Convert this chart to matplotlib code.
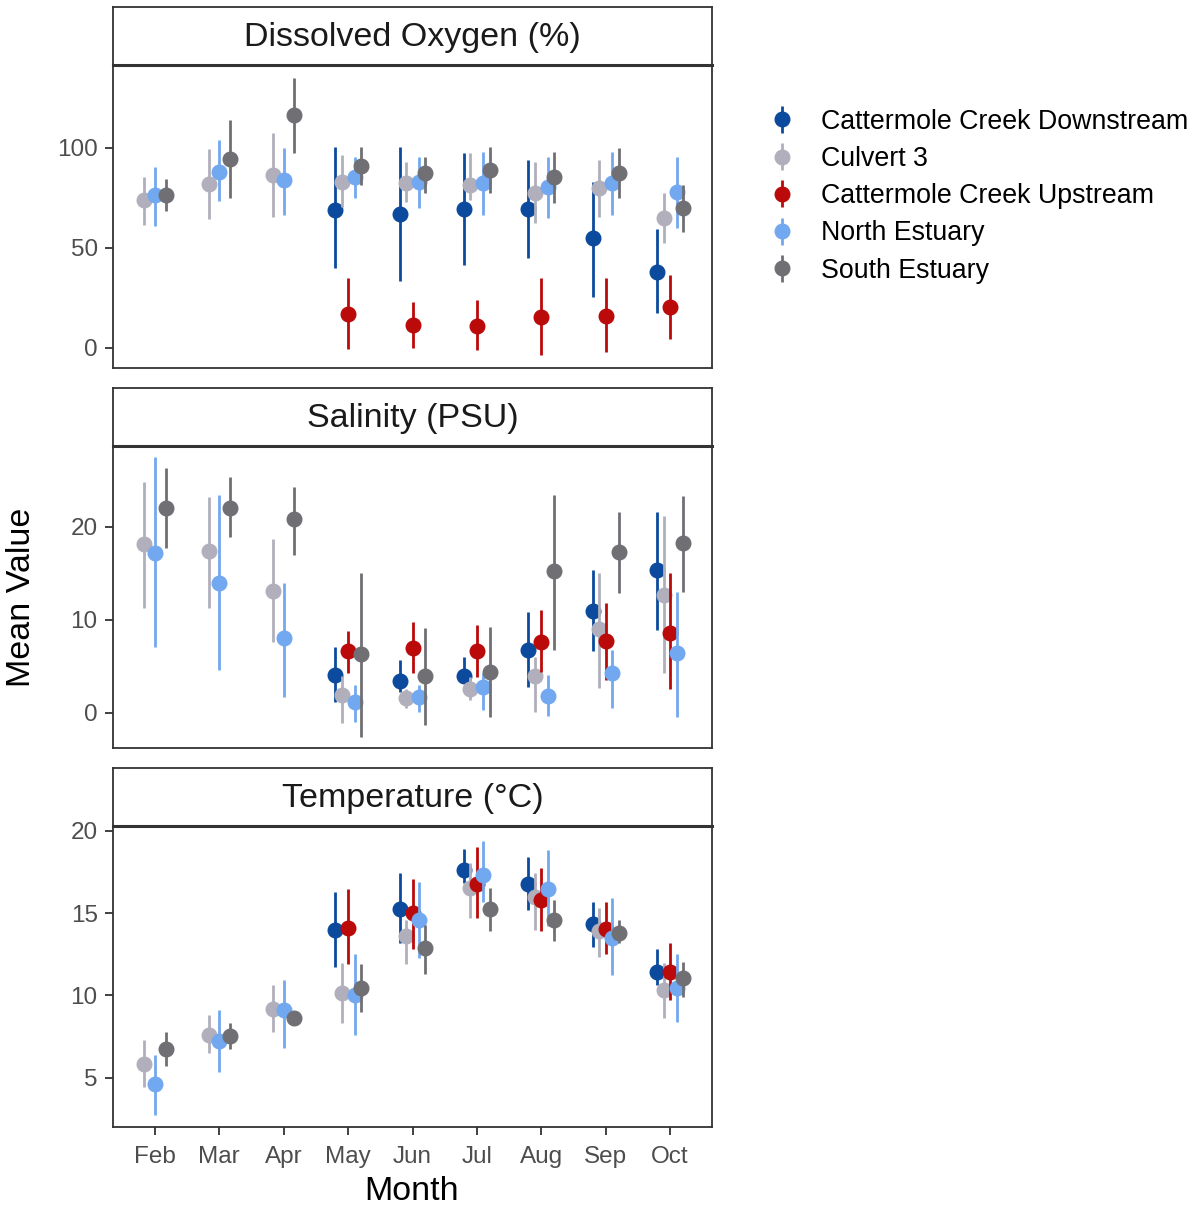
import numpy as np
import matplotlib
matplotlib.use("Agg")
import matplotlib.pyplot as plt

plt.rcParams['font.family'] = ['Liberation Sans', 'DejaVu Sans']

nan = np.nan
months = ['Feb', 'Mar', 'Apr', 'May', 'Jun', 'Jul', 'Aug', 'Sep', 'Oct']
sites = ['Cattermole Creek Downstream', 'Culvert 3', 'Cattermole Creek Upstream',
         'North Estuary', 'South Estuary']
colors = ['#0b4a9c', '#b0afbb', '#bb0a0a', '#72a8f0', '#6f6f74']

# Dissolved oxygen (%): mean, lower, upper per site
do_mean = [[nan, nan, nan, 69, 67, 69.5, 69.5, 55, 38],
           [74, 82, 86.5, 83, 82.5, 81.5, 77.5, 80, 65],
           [nan, nan, nan, 17, 11.5, 11, 15.5, 16, 20.5],
           [76.5, 88, 84, 85.5, 83, 82.5, 80.5, 82.5, 78],
           [76.5, 94.5, 116.5, 91, 87.5, 89, 85.5, 87.5, 70]]
do_lo = [[nan, nan, nan, 40, 33.5, 41.5, 45, 25.5, 17.5],
         [61.5, 64.5, 65.5, 70.5, 73, 74, 62.5, 65.5, 52.5],
         [nan, nan, nan, -0.5, 0, -1, -3.5, -2, 4.5],
         [61, 73.5, 66.5, 75, 70, 66.5, 65, 66.5, 60],
         [68.5, 75, 97.5, 81.5, 77.5, 77.5, 72.5, 75, 58]]
do_hi = [[nan, nan, nan, 100.5, 100.5, 97.5, 94, 83, 59.5],
         [85.5, 99.5, 107.5, 96.5, 93, 97.5, 93, 94, 77.5],
         [nan, nan, nan, 35, 23, 24, 35, 35, 36.5],
         [90.5, 104, 100, 95.5, 95.5, 98, 95.5, 98, 95.5],
         [84.5, 114, 135, 100.5, 95.5, 100.5, 98, 100, 81.5]]

# Salinity (PSU)
sal_mean = [[nan, nan, nan, 4.1, 3.4, 3.9, 6.8, 10.9, 15.4],
            [18.2, 17.4, 13.1, 1.9, 1.6, 2.5, 3.9, 9.0, 12.7],
            [nan, nan, nan, 6.6, 7.0, 6.6, 7.6, 7.7, 8.6],
            [17.2, 14.0, 8.0, 1.1, 1.7, 2.8, 1.8, 4.3, 6.4],
            [22.0, 22.0, 20.8, 6.3, 3.9, 4.4, 15.2, 17.3, 18.3]]
sal_lo = [[nan, nan, nan, 1.1, 2.2, 3.3, 2.8, 6.6, 8.9],
          [11.3, 11.3, 7.6, -1.1, 0.5, 1.4, 0.1, 2.7, 4.3],
          [nan, nan, nan, 4.3, 4.3, 3.8, 4.4, 3.5, 2.5],
          [7.1, 4.6, 1.7, -1.0, 0.1, 0.3, -0.4, 0.5, -0.5],
          [17.7, 18.9, 17.0, -2.6, -1.3, -0.5, 6.8, 12.9, 13.0]]
sal_hi = [[nan, nan, nan, 7.1, 5.7, 6.0, 10.8, 15.4, 21.6],
          [24.8, 23.2, 18.7, 4.0, 2.5, 3.8, 6.0, 15.0, 21.2],
          [nan, nan, nan, 8.8, 9.8, 9.4, 11.0, 11.8, 15.0],
          [27.5, 23.4, 14.0, 3.0, 3.0, 4.3, 4.1, 6.8, 13.0],
          [26.3, 25.4, 24.3, 15.0, 9.1, 9.2, 23.4, 21.6, 23.3]]

# Temperature (°C)
tmp_mean = [[nan, nan, nan, 14.0, 15.25, 17.65, 16.8, 14.35, 11.4],
            [5.85, 7.6, 9.2, 10.15, 13.6, 16.55, 16.0, 13.9, 10.35],
            [nan, nan, nan, 14.1, 15.0, 16.8, 15.8, 14.05, 11.45],
            [4.6, 7.2, 9.1, 10.05, 14.6, 17.3, 16.5, 13.5, 10.45],
            [6.75, 7.55, 8.6, 10.45, 12.9, 15.25, 14.6, 13.8, 11.05]]
tmp_lo = [[nan, nan, nan, 11.7, 13.2, 16.85, 15.2, 12.95, 10.65],
          [4.45, 6.5, 7.8, 8.35, 11.9, 14.7, 14.0, 12.35, 8.65],
          [nan, nan, nan, 11.9, 12.8, 14.7, 13.9, 12.5, 9.75],
          [2.75, 5.35, 6.8, 7.6, 12.3, 15.7, 14.2, 11.25, 8.4],
          [5.7, 6.75, 8.3, 9.0, 11.3, 13.9, 13.3, 13.2, 9.9]]
tmp_hi = [[nan, nan, nan, 16.3, 17.45, 18.9, 18.4, 15.65, 12.8],
          [7.3, 8.8, 10.65, 12.0, 14.6, 18.05, 17.45, 15.3, 12.0],
          [nan, nan, nan, 16.5, 17.1, 19.0, 17.75, 15.65, 13.2],
          [6.4, 9.1, 10.95, 12.5, 16.9, 19.4, 18.85, 15.9, 12.5],
          [7.75, 8.35, 8.9, 11.9, 14.3, 16.55, 15.8, 14.6, 12.05]]

panels = [
    ('Dissolved Oxygen (%)', do_mean, do_lo, do_hi, [0, 50, 100], (-10, 141.5)),
    ('Salinity (PSU)', sal_mean, sal_lo, sal_hi, [0, 10, 20], (-3.8, 28.7)),
    ('Temperature (°C)', tmp_mean, tmp_lo, tmp_hi, [5, 10, 15, 20], (2.0, 20.3)),
]

W, H = 1204, 1206
fig = plt.figure(figsize=(W / 100, H / 100), dpi=100)

# pixel boxes: (strip top, panel top, panel bottom)
boxes = [(7, 65, 368), (388, 446, 748), (768, 826, 1127)]
left, right = 113, 712
edge = '#333333'
dodge = 0.5

handles = []
for k, (title, mean, lo, hi, yt, ylim) in enumerate(panels):
    st, pt, pb = boxes[k]
    ax = fig.add_axes([left / W, 1 - pb / H, (right - left) / W, (pb - pt) / H])
    sax = fig.add_axes([left / W, 1 - pt / H, (right - left) / W, (pt - st) / H])
    mean = np.array(mean, dtype=float)
    lo = np.array(lo, dtype=float)
    hi = np.array(hi, dtype=float)

    # dodge positions, ggplot style: width shared among sites present that month
    xpos = np.full(mean.shape, nan)
    for j in range(len(months)):
        present = [i for i in range(len(sites)) if not np.isnan(mean[i, j])]
        n = len(present)
        for r, i in enumerate(present):
            xpos[i, j] = j + (r - (n - 1) / 2) * dodge / n

    for i, site in enumerate(sites):
        ok = ~np.isnan(mean[i])
        eb = ax.errorbar(xpos[i, ok], mean[i, ok],
                         yerr=[mean[i, ok] - lo[i, ok], hi[i, ok] - mean[i, ok]],
                         fmt='o', color=colors[i], ms=10.5, elinewidth=2.0,
                         capsize=0, label=site, zorder=3 + i)
        if k == 0:
            handles.append(eb)

    ax.set_xlim(-0.65, len(months) - 1 + 0.65)
    ax.set_ylim(*ylim)
    ax.set_yticks(yt)
    ax.set_xticks(range(len(months)))
    ax.tick_params(labelsize=17.5, labelcolor='#4d4d4d', color=edge,
                   length=6, width=1.3, pad=5)
    ax.tick_params(axis='x', pad=8)
    if k == 2:
        ax.set_xticklabels(months)
    else:
        ax.set_xticklabels([])
        ax.tick_params(axis='x', length=0)
    for s in ax.spines.values():
        s.set_color(edge)
        s.set_linewidth(1.3)

    sax.set_xticks([])
    sax.set_yticks([])
    sax.set_xlim(0, 1)
    sax.set_ylim(0, 1)
    for s in sax.spines.values():
        s.set_color(edge)
        s.set_linewidth(1.3)
    sax.spines['bottom'].set_linewidth(2.2)
    sax.text(0.5, 0.47, title, ha='center', va='center', fontsize=24.5,
             color='#1a1a1a')

fig.text(22 / W, 1 - 597 / H, 'Mean Value', rotation=90, ha='center',
         va='center', fontsize=24.5)
fig.text(412 / W, 1 - 1192 / H, 'Month', ha='center', va='center', fontsize=24.5)

fig.legend(handles=handles, labels=sites, loc='upper left',
           bbox_to_anchor=(758 / W, 1 - 98 / H), frameon=False,
           fontsize=19.3, handlelength=1.0, handletextpad=0.95,
           labelspacing=0.42, borderaxespad=0)

fig.savefig('out.png', dpi=100)
